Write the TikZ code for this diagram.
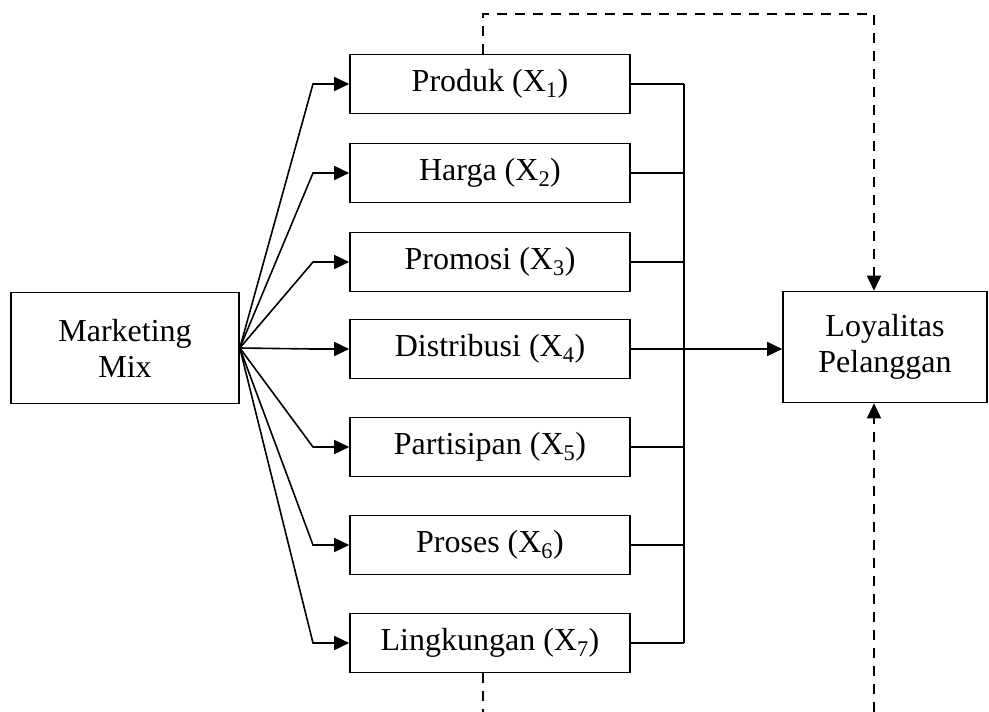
\documentclass[tikz,border=0pt]{standalone}
\usepackage{fontspec}
\setmainfont{Liberation Serif}
\usetikzlibrary{arrows.meta}

\begin{document}
\begin{tikzpicture}[x=1pt, y=-1pt, line width=1.6pt,
  box/.style={draw, line width=1.6pt, inner sep=0pt, align=center,
    font=\fontsize{32}{36}\selectfont},
  varbox/.style={box, minimum width=280pt, minimum height=59pt},
  sidebox/.style={box, minimum height=111pt},
  arr/.style={-{Triangle[length=15pt,width=14pt]}},
  dashln/.style={dash pattern=on 10pt off 8pt}]
\useasboundingbox (0,0) rectangle (989,712);

% kotak kiri dan kanan
\node[sidebox, minimum width=228pt] (mm) at (125, 348) {Marketing\\Mix};
\node[sidebox, minimum width=204pt] (loy) at (885, 347) {Loyalitas\\Pelanggan};

% variabel X1 - X7
\node[varbox] (x1) at (490, 84) {Produk (X\textsubscript{1})};
\node[varbox] (x2) at (490, 173) {Harga (X\textsubscript{2})};
\node[varbox] (x3) at (490, 262) {Promosi (X\textsubscript{3})};
\node[varbox] (x4) at (490, 349) {Distribusi (X\textsubscript{4})};
\node[varbox] (x5) at (490, 447) {Partisipan (X\textsubscript{5})};
\node[varbox] (x6) at (490, 545) {Proses (X\textsubscript{6})};
\node[varbox] (x7) at (490, 643) {Lingkungan (X\textsubscript{7})};

\coordinate (bend) at (313, 0);
\coordinate (bus) at (684, 0);
\coordinate (dtl) at (483, 14);
\coordinate (dtr) at (874, 14);
\coordinate (dbl) at (483, 712);
\coordinate (dbr) at (874, 712);

% panah dari marketing mix
\foreach \i in {1,...,7}
  \draw[arr] (mm.east) -- (bend |- x\i.west) -- (x\i.west);

% garis ke bus
\foreach \i in {1,...,7}
  \draw (x\i.east) -- (bus |- x\i.east);
\draw (bus |- x1.east) -- (bus |- x7.east);
\draw[arr] (x4.east) -- (x4.east -| loy.west);

% garis putus-putus
\draw[dashln, arr] (dtl |- x1.north) -- (dtl) -- (dtr) -- (dtr |- loy.north);
\draw[dashln] (dbl |- x7.south) -- (dbl);
\draw[dashln, arr] (dbr) -- (dbr |- loy.south);

\end{tikzpicture}
\end{document}
